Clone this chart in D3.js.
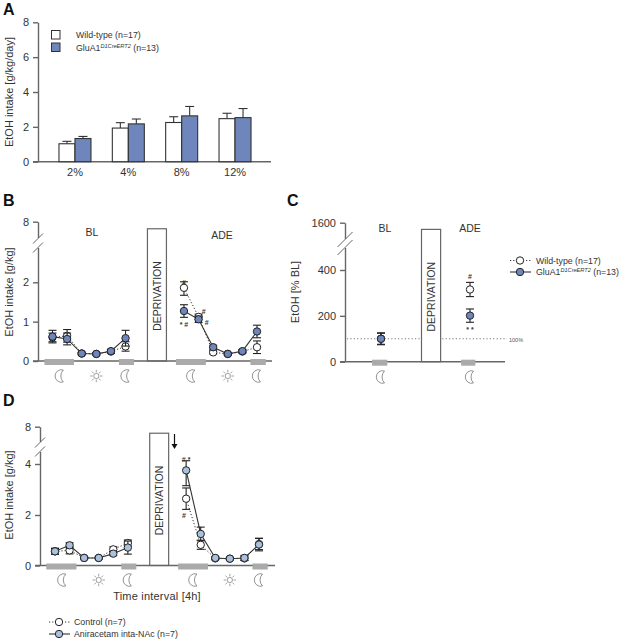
<!DOCTYPE html>
<html>
<head>
<meta charset="utf-8">
<script src="https://cdnjs.cloudflare.com/ajax/libs/d3/7.8.5/d3.min.js"></script>
<style>
  html, body { margin: 0; background: #fff; }
  svg { display: block; font-family: "Liberation Sans", Arial, sans-serif; fill: #333; }
  .axis path, .axis line { stroke: #666; stroke-width: 1.4; }
  .axis text { font-size: 11px; fill: #333; font-family: "Liberation Sans", Arial, sans-serif; }
</style>
</head>
<body>
<svg width="620" height="640"></svg>
<script>
// panel A
const concentrations = ['2%', '4%', '8%', '12%'];
const wtIntake = [1.03, 1.93, 2.25, 2.47];
const wtIntakeErr = [0.14, 0.31, 0.33, 0.31];
const gluIntake = [1.33, 2.17, 2.63, 2.53];
const gluIntakeErr = [0.12, 0.28, 0.54, 0.52];

// panel B, time intervals before and after deprivation
const intervals = [0, 1, 2, 3, 4, 5, 9, 10, 11, 12, 13, 14];
const wtB = [0.60, 0.64, 0.19, 0.18, 0.24, 0.37, 1.86, 1.12, 0.22, 0.18, 0.24, 0.35];
const wtBErr = [0.11, 0.16, 0.03, 0.03, 0.04, 0.12, 0.19, 0.07, 0.04, 0.03, 0.04, 0.16];
const gluB = [0.62, 0.56, 0.19, 0.18, 0.25, 0.58, 1.27, 1.06, 0.35, 0.18, 0.25, 0.75];
const gluBErr = [0.16, 0.15, 0.03, 0.03, 0.05, 0.20, 0.16, 0.08, 0.05, 0.03, 0.04, 0.16];

// panel C
const phases = [0, 1];
const wtC = [100, 315];
const wtCErr = [26, 31];
const gluC = [100, 201];
const gluCErr = [24, 29];

// panel D
const ctrlD = [0.56, 0.60, 0.30, 0.30, 0.64, 0.89, 2.64, 0.82, 0.28, 0.27, 0.28, 0.85];
const ctrlDErr = [0.12, 0.14, 0.04, 0.04, 0.10, 0.12, 0.42, 0.18, 0.05, 0.04, 0.08, 0.22];
const aniD = [0.56, 0.80, 0.30, 0.30, 0.47, 0.71, 3.75, 1.25, 0.30, 0.27, 0.30, 0.83];
const aniDErr = [0.12, 0.10, 0.04, 0.04, 0.08, 0.26, 0.60, 0.27, 0.05, 0.04, 0.10, 0.25];

const svg = d3.select('svg');
const axisGrey = '#666', inkGrey = '#333', nightGrey = '#aaa';
const gluBlue = '#6f86bd', aniBlue = '#a9c0de';

const text = (x, y, s, size, opts = {}) => svg.append('text')
  .attr('x', x).attr('y', y)
  .attr('font-size', size)
  .attr('text-anchor', opts.anchor || 'start')
  .attr('font-weight', opts.weight || null)
  .attr('transform', opts.rotate ? `rotate(${opts.rotate} ${x} ${y})` : null)
  .attr('fill', opts.fill || '#333')
  .text(s);

const yTitle = (x, y, s) => text(x, y, s, 11, { anchor: 'middle', rotate: -90 });

// axis line with a white gap and the two slashes of the broken scale
function yAxis(x, y, ticks, brk) {
  svg.append('g').attr('class', 'axis')
    .attr('transform', `translate(${x},0)`)
    .call(d3.axisLeft(y).tickValues(ticks).tickFormat(d3.format('d')).tickSize(5).tickPadding(4).tickSizeOuter(0));
  if (!brk) return;
  const w = brk.w;
  svg.append('rect').attr('x', x - 2).attr('width', 4)
    .attr('y', brk.y1 - brk.h).attr('height', brk.y2 - brk.y1 + brk.h).attr('fill', '#fff');
  [brk.y1, brk.y2].forEach(b => {
    svg.append('line')
      .attr('x1', x - w).attr('x2', x + w)
      .attr('y1', b + w - brk.h / 2).attr('y2', b - w - brk.h / 2)
      .attr('stroke', axisGrey).attr('stroke-width', 1);
  });
}

const xLine = (x0, x1, y0) => svg.append('line')
  .attr('x1', x0).attr('x2', x1).attr('y1', y0).attr('y2', y0)
  .attr('stroke', axisGrey).attr('stroke-width', 1.4);

function moon(cx, cy) {
  svg.append('path')
    .attr('transform', `translate(${cx},${cy})`)
    .attr('d', 'M3.5,-6 A6.3,6.3 0 1 0 3.5,6 A8.5,8.5 0 0 1 3.5,-6 Z')
    .attr('fill', '#fff').attr('stroke', '#888').attr('stroke-width', 0.9);
}

function sun(cx, cy) {
  const g = svg.append('g').attr('transform', `translate(${cx},${cy})`)
    .attr('stroke', '#888').attr('stroke-width', 0.8);
  g.append('circle').attr('r', 2.6).attr('fill', '#fff');
  d3.range(8).forEach(i => {
    const a = i * Math.PI / 4;
    g.append('line')
      .attr('x1', Math.cos(a) * 3.6).attr('y1', Math.sin(a) * 3.6)
      .attr('x2', Math.cos(a) * 6.2).attr('y2', Math.sin(a) * 6.2);
  });
}

function deprivation(x, y, from, to, top) {
  const y0 = y.range()[0];
  svg.append('rect')
    .attr('x', x(from)).attr('width', x(to) - x(from))
    .attr('y', y(top)).attr('height', y0 - y(top))
    .attr('fill', '#fff').attr('stroke', axisGrey).attr('stroke-width', 1.2);
  const cx = (x(from) + x(to)) / 2 + 4;
  const cy = y0 - 65;
  text(cx, cy, 'DEPRIVATION', 10.5, { anchor: 'middle', rotate: -90 });
}

function nightBars(x, y0, spans) {
  svg.selectAll(null).data(spans).enter().append('rect')
    .attr('x', d => x(d[0])).attr('width', d => x(d[1]) - x(d[0]))
    .attr('y', y0 - 2).attr('height', 6)
    .attr('fill', nightGrey);
}

// one series: optional connecting line, whiskers, circles
function series(xs, vals, errs, x, y, fill, dotted, connect) {
  const g = svg.append('g');
  const pts = xs.map((t, i) => ({ t, v: vals[i], e: errs[i] }));
  if (connect) {
    const line = d3.line().x(d => x(d.t)).y(d => y(d.v));
    [pts.slice(0, 6), pts.slice(6)].forEach(run => {
      g.append('path').attr('d', line(run)).attr('fill', 'none')
        .attr('stroke', inkGrey).attr('stroke-width', dotted ? 1 : 1.1)
        .attr('stroke-dasharray', dotted ? '1.2 2' : null);
    });
  }
  const w = g.selectAll('g.w').data(pts).enter().append('g')
    .attr('stroke', '#222').attr('stroke-width', 1.1);
  w.append('line').attr('x1', d => x(d.t)).attr('x2', d => x(d.t))
    .attr('y1', d => y(d.v - d.e)).attr('y2', d => y(d.v + d.e));
  [-1, 1].forEach(s => {
    w.append('line').attr('x1', d => x(d.t) - 4).attr('x2', d => x(d.t) + 4)
      .attr('y1', d => y(d.v + s * d.e)).attr('y2', d => y(d.v + s * d.e));
  });
  g.selectAll('circle').data(pts).enter().append('circle')
    .attr('cx', d => x(d.t)).attr('cy', d => y(d.v)).attr('r', 3.7)
    .attr('fill', fill).attr('stroke', '#222').attr('stroke-width', 1);
}

function marks(list, x, y) {
  list.forEach(([t, v, s]) => {
    text(x(t), y(v) + 3, s, 7, { anchor: 'middle', weight: 'bold' });
  });
}

function legendEntry(cx, tx, cy, fill, dotted, label, sup, rest) {
  svg.append('line').attr('x1', cx - 10).attr('x2', cx + 11).attr('y1', cy).attr('y2', cy)
    .attr('stroke', inkGrey).attr('stroke-width', dotted ? 1 : 1.1)
    .attr('stroke-dasharray', dotted ? '1.2 2' : null);
  svg.append('circle').attr('cx', cx).attr('cy', cy).attr('r', 3.7)
    .attr('fill', fill).attr('stroke', '#222');
  legendText(tx, cy + 3, label, sup, rest);
}

function legendText(x, y, label, sup, rest) {
  const t = svg.append('text').attr('x', x).attr('y', y).attr('font-size', 8.8).attr('fill', '#333').text(label);
  if (sup) {
    t.append('tspan').attr('font-size', 5.6).attr('font-style', 'italic').attr('dy', -3).text(sup);
    t.append('tspan').attr('dy', 3).text(' ' + rest);
  }
}

/* ---------- A ---------- */
text(3, 15, 'A', 16, { weight: 'bold', fill: '#111' });
const yA = d3.scaleLinear().domain([0, 8]).range([161.7, 22.3]);
const xA = d3.scaleBand().domain(concentrations).range([48.3, 261.7]);
const barW = 16;
yAxis(38, yA, [0, 2, 4, 6, 8]);
xLine(33, 271, yA(0));
svg.append('g').attr('class', 'axis').attr('transform', `translate(0,${yA(0)})`)
  .call(d3.axisBottom(xA).tickSize(0).tickPadding(7))
  .call(g => g.select('.domain').remove());
yTitle(12.5, 92, 'EtOH intake [g/kg/day]');

[[wtIntake, wtIntakeErr, '#fff', -barW], [gluIntake, gluIntakeErr, gluBlue, 0]].forEach(([vals, errs, fill, off]) => {
  const g = svg.append('g');
  const bx = i => xA(concentrations[i]) + xA.bandwidth() / 2 + off;
  vals.forEach((v, i) => {
    g.append('line').attr('x1', bx(i) + barW / 2).attr('x2', bx(i) + barW / 2)
      .attr('y1', yA(v)).attr('y2', yA(v + errs[i])).attr('stroke', '#333').attr('stroke-width', 1.1);
    g.append('line').attr('x1', bx(i) + barW / 2 - 4.5).attr('x2', bx(i) + barW / 2 + 4.5)
      .attr('y1', yA(v + errs[i])).attr('y2', yA(v + errs[i])).attr('stroke', '#333').attr('stroke-width', 1.1);
    g.append('rect').attr('x', bx(i)).attr('width', barW)
      .attr('y', yA(v)).attr('height', yA(0) - yA(v))
      .attr('fill', fill).attr('stroke', '#333').attr('stroke-width', 1.1);
  });
});
svg.append('rect').attr('x', 51.5).attr('y', 30.5).attr('width', 8.5).attr('height', 8.5)
  .attr('fill', '#fff').attr('stroke', '#333');
svg.append('rect').attr('x', 51.5).attr('y', 43).attr('width', 8.5).attr('height', 8.5)
  .attr('fill', gluBlue).attr('stroke', '#333');
legendText(76, 38, 'Wild-type (n=17)');
legendText(76, 51, 'GluA1', 'D1CreERT2', '(n=13)');

/* ---------- B ---------- */
text(3, 206, 'B', 16, { weight: 'bold', fill: '#111' });
const yB = d3.scaleLinear().domain([0, 2, 8]).range([361, 282.3, 221.7]);
const xB = d3.scaleLinear().domain([0, 14]).range([52.5, 257]);
yAxis(38, yB, [0, 1, 2, 8], { y1: 239, y2: 248, h: 1, w: 5 });
yTitle(12.5, 292, 'EtOH intake [g/kg]');
deprivation(xB, yB, 6.5, 7.8, 7.3);
xLine(33, 272, yB(0));
nightBars(xB, yB(0), [[-0.55, 1.47], [4.55, 5.58], [8.45, 10.5], [13.55, 14.6]]);
[0.5, 5, 9.5, 14].forEach(t => moon(xB(t), 376));
[3, 12].forEach(t => sun(xB(t), 376));
series(intervals, wtB, wtBErr, xB, yB, '#fff', true, true);
series(intervals, gluB, gluBErr, xB, yB, gluBlue, false, true);
text(92, 236, 'BL', 10.5, { anchor: 'middle' });
text(222, 239, 'ADE', 10.5, { anchor: 'middle' });
marks([[9, 2.02, '#'], [9, 0.94, '* #'], [10.35, 1.27, '#'], [10.55, 1.0, '#']], xB, yB);

/* ---------- C ---------- */
text(287, 206, 'C', 16, { weight: 'bold', fill: '#111' });
const yC = d3.scaleLinear().domain([0, 400, 1600]).range([361.7, 270, 222.7]);
const xC = d3.scaleLinear().domain([0, 1]).range([381, 470]);
yAxis(345, yC, [0, 200, 400, 1600], { y1: 240, y2: 248, h: 1, w: 7.5 });
yTitle(299, 292, 'EtOH [% BL]');
svg.append('line').attr('x1', 347).attr('x2', 507).attr('y1', yC(100)).attr('y2', yC(100))
  .attr('stroke', '#777').attr('stroke-dasharray', '1.2 2.2');
text(509, 342, '100%', 5.5, { fill: '#555' });
deprivation(xC, yC, 0.455, 0.67, 1430);
xLine(340, 505, yC(0));
nightBars(xC, yC(0), [[-0.1, 0.07], [0.9, 1.06]]);
phases.forEach(t => moon(xC(t), 377));
series(phases, wtC, wtCErr, xC, yC, '#fff', true, false);
series(phases, gluC, gluCErr, xC, yC, gluBlue, false, false);
text(385, 232, 'BL', 10.5, { anchor: 'middle' });
text(470, 232, 'ADE', 10.5, { anchor: 'middle' });
marks([[1, 376, '#'], [1, 144, '* *']], xC, yC);
legendEntry(520, 536, 260.5, '#fff', true, 'Wild-type (n=17)');
legendEntry(520, 536, 272, gluBlue, false, 'GluA1', 'D1CreERT2', '(n=13)');

/* ---------- D ---------- */
text(3, 406, 'D', 16, { weight: 'bold', fill: '#111' });
const yD = d3.scaleLinear().domain([0, 2, 4, 8]).range([565.5, 515, 464, 426.7]);
const xD = d3.scaleLinear().domain([0, 14]).range([55, 259]);
yAxis(40, yD, [0, 2, 4, 8], { y1: 443, y2: 452, h: 1, w: 5 });
yTitle(13, 495, 'EtOH intake [g/kg]');
deprivation(xD, yD, 6.5, 7.8, 7.3);
xLine(35, 275, yD(0));
nightBars(xD, yD(0), [[-0.6, 1.47], [4.55, 5.58], [8.45, 10.5], [13.55, 14.6]]);
[0.5, 5, 9.5, 14].forEach(t => moon(xD(t), 580));
[3, 12].forEach(t => sun(xD(t), 580));
series(intervals, ctrlD, ctrlDErr, xD, yD, '#fff', true, true);
series(intervals, aniD, aniDErr, xD, yD, aniBlue, false, true);
marks([[9, 4.5, '# *'], [8.85, 2.0, '#']], xD, yD);
text(157, 600, 'Time interval [4h]', 11, { anchor: 'middle' }).attr('letter-spacing', 0.2);
svg.append('line').attr('x1', 174.5).attr('x2', 174.5).attr('y1', 434).attr('y2', 446)
  .attr('stroke', '#111').attr('stroke-width', 1.2);
svg.append('path').attr('d', 'M171.5,444 L177.5,444 L174.5,449 Z').attr('fill', '#111');
legendEntry(59, 74, 622, '#fff', true, 'Control (n=7)');
legendEntry(59, 74, 634, aniBlue, false, 'Aniracetam inta-NAc (n=7)');
</script>
</body>
</html>
